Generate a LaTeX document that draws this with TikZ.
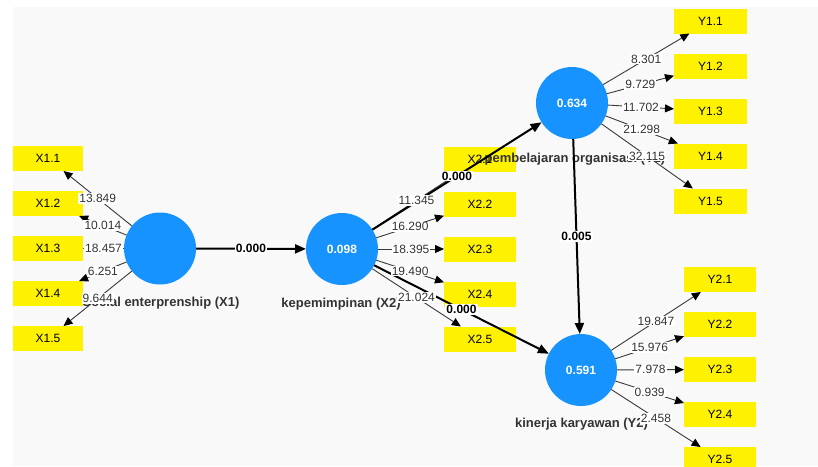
\documentclass[tikz,border=0pt]{standalone}
\usepackage{fontspec}
\setmainfont{Liberation Sans}
\usetikzlibrary{arrows.meta}
\definecolor{bgc}{HTML}{F9F9F9}
\definecolor{lv}{RGB}{22,147,255}
\definecolor{ink}{HTML}{333333}
\definecolor{linec}{HTML}{3A3A3A}
\begin{document}
\begin{tikzpicture}[x=1pt,y=-1pt,
  lvnode/.style={circle,fill=lv,minimum size=72pt,inner sep=0pt,outer sep=0pt,text=white,font=\fontsize{12}{14}\selectfont\bfseries},
  mv/.style={rectangle,fill=yellow,minimum width=72pt,minimum height=25pt,inner sep=0pt,outer sep=0pt,text=black,font=\fontsize{12}{14}\selectfont},
  ind/.style={draw=linec,line width=0.9pt,-{Triangle[length=9pt,width=8pt,color=black]}},
  strc/.style={draw=black,line width=2pt,-{Triangle[length=11pt,width=9pt]}},
  lab/.style={fill=white,inner sep=1pt,text=ink,font=\fontsize{12}{14}\selectfont},
  slab/.style={fill=white,inner sep=1pt,text=black,font=\fontsize{12}{14}\selectfont\bfseries},
  cname/.style={text=ink,font=\fontsize{13}{15}\selectfont\bfseries,inner sep=0pt}]

\useasboundingbox (0,0) rectangle (818,466);
\clip (0,0) rectangle (818,466);
\fill[white] (0,0) rectangle (818,466);
\fill[bgc] (13,7) rectangle (818,466);

% latent variables
\node[lvnode] (X1) at (160,248.5) {};
\node[lvnode] (X2) at (342,249) {0.098};
\node[lvnode] (Y1) at (572,103) {0.634};
\node[lvnode] (Y2) at (581,370) {0.591};

% indicators
\foreach \i/\y in {1/158.5,2/203.5,3/248.5,4/293.5,5/338.5}
  \node[mv,minimum width=70pt] (x1\i) at (48,\y) {X1.\i};
\foreach \i/\y in {1/159,2/204,3/249,4/294,5/339}
  \node[mv] (x2\i) at (480,\y) {X2.\i};
\foreach \i/\y in {1/21,2/66,3/111,4/156,5/201}
  \node[mv,minimum width=73pt] (y1\i) at (710.5,\y) {Y1.\i};
\foreach \i/\y in {1/279.5,2/324.5,3/369.5,4/414.5,5/459.5}
  \node[mv] (y2\i) at (720,\y) {Y2.\i};

% construct names
\node[cname] (nX1) at (161,303) {Social enterprenship (X1)};
\node[cname] (nX2) at (341,304) {kepemimpinan (X2)};
\node[cname] (nY1) at (575,159) {pembelajaran organisasi (Y1)};
\node[cname] (nY2) at (581.5,424) {kinerja karyawan (Y2)};

% indicator arrows
\foreach \i in {1,...,5} {
  \draw[ind] (X1) -- (x1\i);
  \draw[ind] (X2) -- (x2\i);
  \draw[ind] (Y1) -- (y1\i);
  \draw[ind] (Y2) -- (y2\i);
}

% structural arrows
\draw[strc] (X1) -- (X2);
\draw[strc] (X2) -- (Y1);
\draw[strc] (X2) -- (Y2);
\draw[strc] (Y1) -- (Y2);

% indicator labels
\foreach \i/\v in {1/13.849,2/10.014,3/18.457,4/6.251,5/9.644}
  \path (X1) -- (x1\i) node[midway,lab] {\v};
\foreach \i/\v in {1/11.345,2/16.290,3/18.395,4/19.490,5/21.024}
  \path (X2) -- (x2\i) node[midway,lab] {\v};
\foreach \i/\v in {1/8.301,2/9.729,3/11.702,4/21.298,5/32.115}
  \path (Y1) -- (y1\i) node[midway,lab] {\v};
\foreach \i/\v in {1/19.847,2/15.976,3/7.978,4/0.939,5/2.458}
  \path (Y2) -- (y2\i) node[midway,lab] {\v};

% structural labels
\path (X1) -- (X2) node[midway,slab] {0.000};
\path (X2) -- (Y1) node[midway,slab] {0.000};
\path (X2) -- (Y2) node[midway,slab] {0.000};
\path (Y1) -- (Y2) node[midway,slab] {0.005};
\end{tikzpicture}
\end{document}
